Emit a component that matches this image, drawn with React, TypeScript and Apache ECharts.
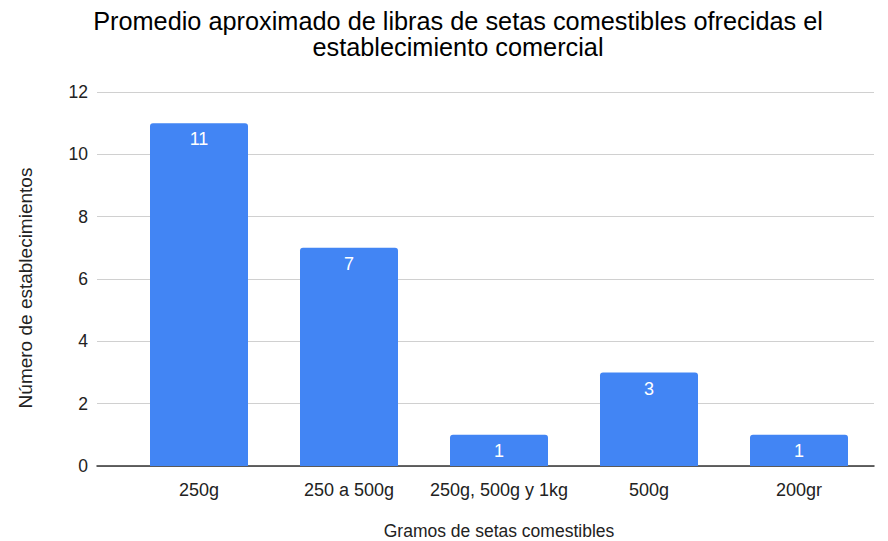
import React, { useEffect, useRef } from "react";
import * as echarts from "echarts";

const categories = ["250g", "250 a 500g", "250g, 500g y 1kg", "500g", "200gr"];
const values = [11, 7, 1, 3, 1];
const yTicks = { min: 0, max: 12, interval: 2 };
const titleText = "Promedio aproximado de libras de setas comestibles ofrecidas el\nestablecimiento comercial";
const xName = "Gramos de setas comestibles";
const yName = "Número de establecimientos";

export default function App() {
  const ref = useRef<HTMLDivElement>(null);
  useEffect(() => {
    if (!ref.current) return;
    const chart = echarts.init(ref.current, undefined, { renderer: "svg" });
    const font = "Liberation Sans, Arial, sans-serif";
    chart.setOption({
      animation: false,
      textStyle: { fontFamily: font },
      title: {
        text: titleText,
        left: 453,
        textAlign: "center",
        top: 3,
        textStyle: { fontSize: 25.3, fontWeight: "normal", color: "#000", lineHeight: 26, fontFamily: font },
      },
      grid: [
        { left: 124, right: 14, top: 92, bottom: 75, outerBoundsMode: "none", containLabel: false },
        { left: 97, right: 14, top: 92, bottom: 75, outerBoundsMode: "none", containLabel: false },
      ],
      xAxis: [
        {
          type: "category",
          gridIndex: 0,
          data: categories,
          axisLine: { show: false },
          axisTick: { show: false },
          axisLabel: { fontSize: 18, color: "#222", margin: 15, fontFamily: font, interval: 0 },
          name: xName,
          nameLocation: "middle",
          nameGap: 56,
          nameTextStyle: { fontSize: 17.5, color: "#222", fontFamily: font },
        },
        {
          type: "value",
          gridIndex: 1,
          min: 0,
          max: 1,
          axisLine: { show: true, onZero: false, lineStyle: { color: "#333", width: 1.5 } },
          axisTick: { show: false },
          axisLabel: { show: false },
          splitLine: { show: false },
        },
      ],
      yAxis: [
        {
          type: "value",
          gridIndex: 0,
          min: yTicks.min,
          max: yTicks.max,
          interval: yTicks.interval,
          axisLabel: { show: false },
          splitLine: { show: false },
          axisLine: { show: false },
          axisTick: { show: false },
        },
        {
          type: "value",
          gridIndex: 1,
          min: yTicks.min,
          max: yTicks.max,
          interval: yTicks.interval,
          axisLabel: { fontSize: 17.5, color: "#222", margin: 9, fontFamily: font },
          splitLine: { show: true, lineStyle: { color: "#d0d0d0", width: 1 } },
          axisLine: { show: false },
          axisTick: { show: false },
        },
      ],
      graphic: [
        {
          type: "text",
          x: 25,
          y: 288,
          rotation: Math.PI / 2,
          style: {
            text: yName,
            fontSize: 19,
            fill: "#222",
            fontFamily: font,
            align: "center",
            verticalAlign: "middle",
          },
        },
      ],
      series: [
        {
          type: "bar",
          xAxisIndex: 0,
          yAxisIndex: 0,
          data: values,
          barWidth: 98,
          itemStyle: { color: "#4285F4", borderRadius: [3, 3, 0, 0] },
          label: {
            show: true,
            position: "insideTop",
            distance: 7,
            color: "#fff",
            fontSize: 18,
            fontFamily: font,
          },
          z: 3,
        },
      ],
    });
    return () => chart.dispose();
  }, []);
  return <div ref={ref} style={{ position: "absolute", left: 0, top: 0, width: 888, height: 541 }} />;
}
